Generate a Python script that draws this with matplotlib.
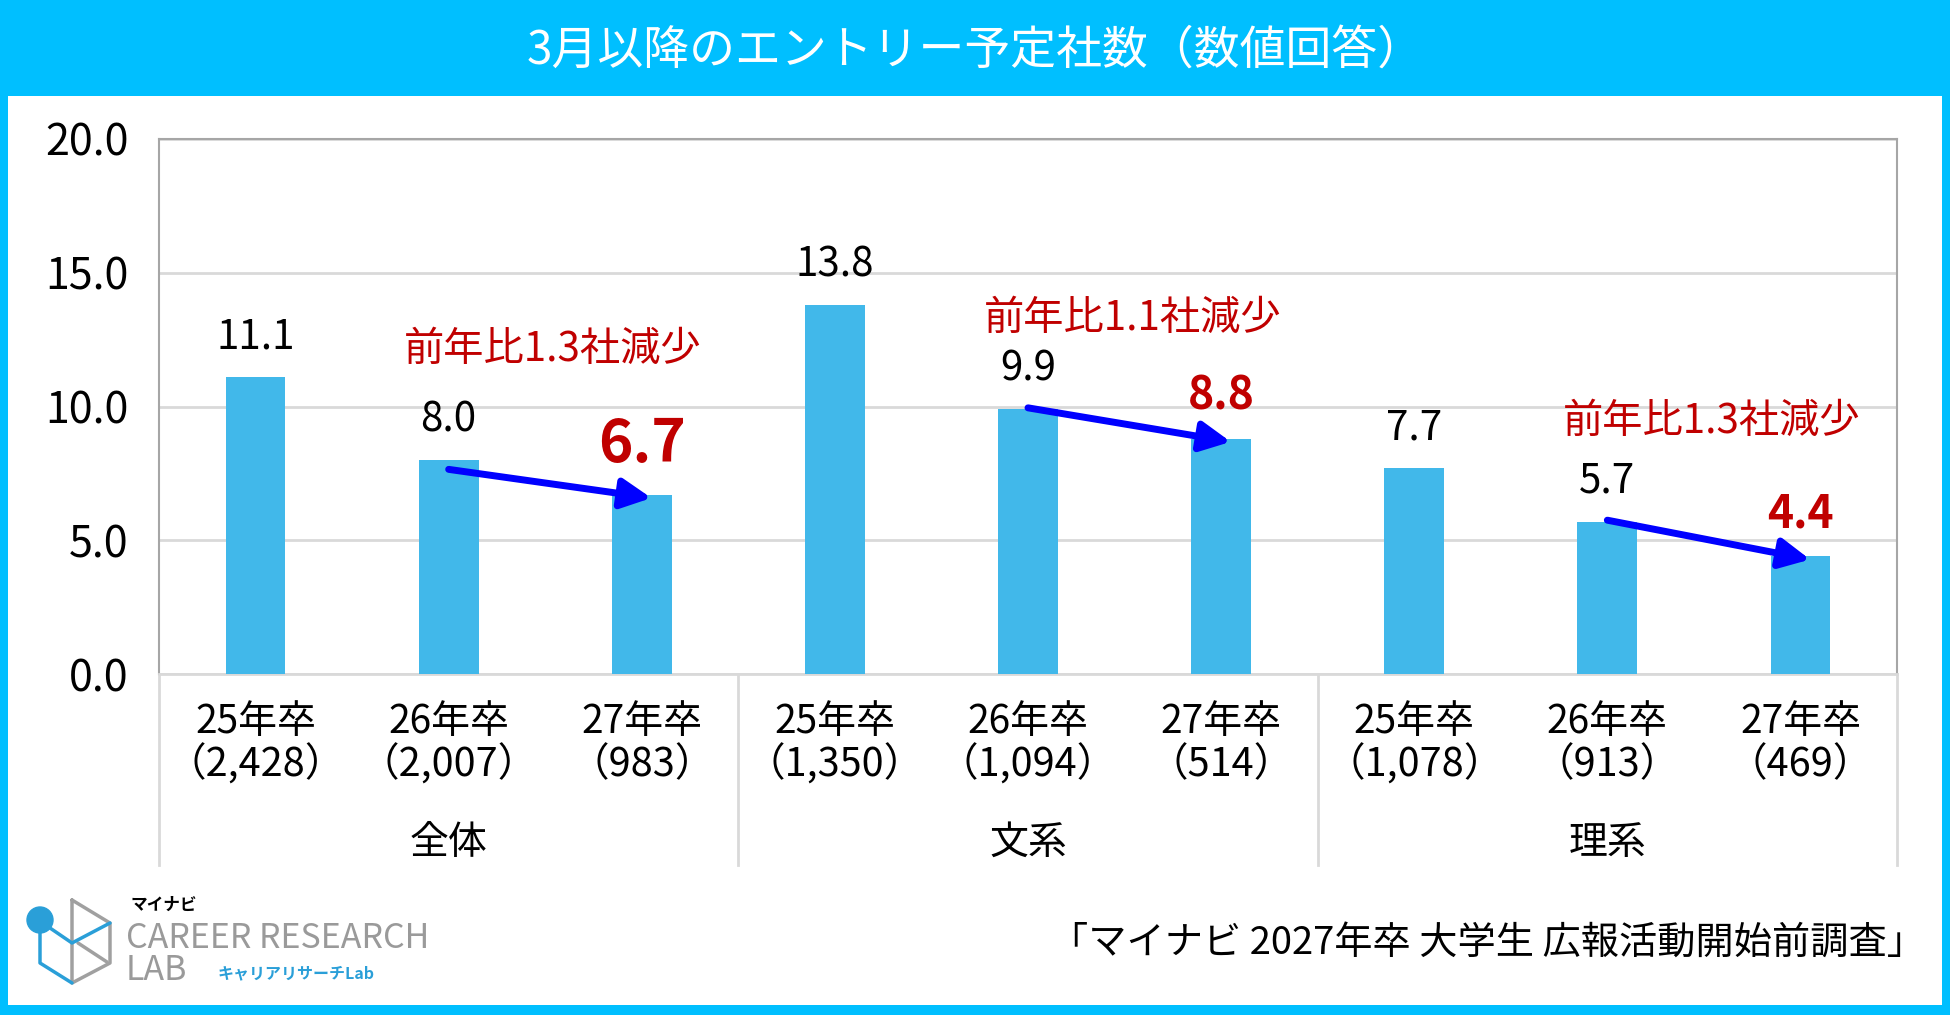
import matplotlib
matplotlib.use('Agg')
import matplotlib.pyplot as plt
from matplotlib.patches import Rectangle, Circle
from matplotlib.lines import Line2D
from matplotlib.transforms import IdentityTransform

plt.rcParams['font.family'] = ['Noto Sans CJK JP', 'DejaVu Sans']

# ---------------- data ----------------
title = "3月以降のエントリー予定社数（数値回答）"
years = ["25年卒", "26年卒", "27年卒", "25年卒", "26年卒", "27年卒", "25年卒", "26年卒", "27年卒"]
counts = ["（2,428）", "（2,007）", "（983）", "（1,350）", "（1,094）", "（514）", "（1,078）", "（913）", "（469）"]
values = [11.1, 8.0, 6.7, 13.8, 9.9, 8.8, 7.7, 5.7, 4.4]
groups = ["全体", "文系", "理系"]
changes = ["前年比1.3社減少", "前年比1.1社減少", "前年比1.3社減少"]
yticks = [0, 5, 10, 15, 20]
source = "「マイナビ 2027年卒 大学生 広報活動開始前調査」"

# ---------------- figure ----------------
W, H = 1950, 1015
CYAN = '#00BFFF'
BAR = '#41B8EA'
RED = '#C00000'
BLUE = '#0000FF'

fig = plt.figure(figsize=(W / 100, H / 100), dpi=100, facecolor=CYAN)

def fx(px):
    return px / W

def fy(py):
    return 1 - py / H

# white panel
fig.patches.append(Rectangle((fx(8), fy(1005)), fx(1942) - fx(8), fy(96) - fy(1005),
                             transform=fig.transFigure, facecolor='white', edgecolor='none', zorder=-5))

fig.text(fx(975), fy(50), title, color='white', fontsize=33, ha='center', va='center')

ax = fig.add_axes([fx(159), fy(674), fx(1897) - fx(159), fy(139) - fy(674)])
ax.set_zorder(2)
ax.set_facecolor('none')
x = list(range(len(values)))
ax.bar(x, values, width=0.31, color=BAR, zorder=3)
ax.set_xlim(-0.5, len(values) - 0.5)
ax.set_ylim(0, 20)
ax.set_yticks(yticks)
ax.set_yticklabels([f"{v:.1f}" for v in yticks], fontsize=31)
ax.tick_params(axis='y', length=0, pad=22)
ax.tick_params(axis='x', length=0, labelbottom=False)
ax.set_xticks([])
ax.yaxis.grid(True, color='#D9D9D9', lw=2)
ax.set_axisbelow(True)
for s in ['left', 'right', 'top']:
    ax.spines[s].set_color('#A6A6A6')
    ax.spines[s].set_linewidth(1.5)
ax.spines['bottom'].set_color('#D9D9D9')
ax.spines['bottom'].set_linewidth(2)

# value labels
for i, v in enumerate(values):
    if i % 3 == 2:
        if i == 2:
            ax.annotate(f"{v:.1f}", (i, v), xytext=(0, 36), textcoords='offset points',
                        ha='center', va='center', fontsize=42, fontweight='bold', color=RED)
        else:
            ax.annotate(f"{v:.1f}", (i, v), xytext=(0, 30), textcoords='offset points',
                        ha='center', va='center', fontsize=32, fontweight='bold', color=RED)
    else:
        ax.annotate(f"{v:.1f}", (i, v), xytext=(0, 29), textcoords='offset points',
                    ha='center', va='center', fontsize=29, color='black')

# arrows and notes
start_off = [-0.35, 0.05, 0.05]
note_y = [12.15, 13.3, 9.46]
for g in range(3):
    a, b = 3 * g + 1, 3 * g + 2
    ax.annotate('', xy=(b + 0.05, values[b] - 0.12), xytext=(a, values[a] + start_off[g]),
                arrowprops=dict(arrowstyle='-|>,head_length=0.6,head_width=0.3', color=BLUE,
                                lw=5, shrinkA=0, shrinkB=0, mutation_scale=30), zorder=5)
    ax.text(a + 0.54, note_y[g], changes[g], color=RED, fontsize=29, ha='center', va='center', zorder=6)

# category labels
xt = ax.get_xaxis_transform()
for i in x:
    ax.text(i, -0.0897, years[i], transform=xt, ha='center', va='center', fontsize=28, clip_on=False)
    ax.text(i, -0.170, counts[i], transform=xt, ha='center', va='center', fontsize=28.5, clip_on=False)
for g, name in enumerate(groups):
    ax.text(3 * g + 1, -0.316, name, transform=xt, ha='center', va='center', fontsize=28, clip_on=False)
for k in range(4):
    ax.add_line(Line2D([3 * k - 0.5, 3 * k - 0.5], [0, -0.357], transform=xt, color='#D9D9D9',
                       lw=2, clip_on=False))

# source
fig.text(fx(1925), fy(943), source, fontsize=27.5, ha='right', va='center', color='black')

# logo
def pl(xs, ys, color, lw=2.5):
    fig.add_artist(Line2D([fx(v) for v in xs], [fy(v) for v in ys], color=color, lw=lw,
                          solid_capstyle='round', solid_joinstyle='round'))

GRAY = '#A0A0A0'
LB = '#2A9FD8'
pl([72, 110, 110, 72, 72], [900, 923, 963, 983, 900], GRAY)
pl([78, 107], [943, 962], GRAY)
pl([40, 40, 72], [922, 963, 983], LB)
pl([50, 72, 110], [928, 943, 923], LB)
fig.add_artist(Circle((40, H - 920), 13, transform=IdentityTransform(), color=LB))
fig.text(fx(131), fy(905), "マイナビ", fontsize=12, fontweight='bold', ha='left', va='center', color='black')
fig.text(fx(126), fy(938), "CAREER RESEARCH", fontsize=24.5, ha='left', va='center', color='#9A9A9A')
fig.text(fx(126), fy(971), "LAB", fontsize=24.5, ha='left', va='center', color='#9A9A9A')
fig.text(fx(218), fy(973), "キャリアリサーチLab", fontsize=11.5, fontweight='bold', ha='left', va='center', color=LB)

fig.savefig('out.png', dpi=100, facecolor=CYAN)
